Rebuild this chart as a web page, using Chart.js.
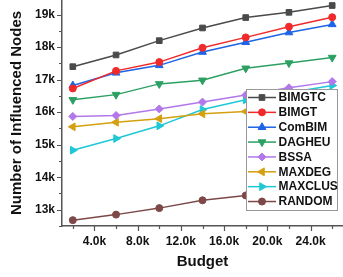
<!DOCTYPE html>
<html>
<head>
<meta charset="utf-8">
<script src="https://cdn.jsdelivr.net/npm/chart.js@4.4.1/dist/chart.umd.min.js"></script>
<style>
  html, body { margin: 0; padding: 0; background: #fff; }
  #wrap { width: 343px; height: 277px; }
</style>
</head>
<body>
<div id="wrap"><canvas id="myChart" width="343" height="277"></canvas></div>
<script>
// budgets on the x axis
const budgets = [2000, 6000, 10000, 14000, 18000, 22000, 26000];

// influenced nodes per method
const bimgtc = [17400, 17760, 18200, 18590, 18910, 19070, 19280];
const bimgt  = [16730, 17270, 17540, 17980, 18300, 18630, 18920];
const combim = [16820, 17210, 17440, 17850, 18150, 18450, 18700];
const dagheu = [16380, 16540, 16870, 16980, 17350, 17510, 17680];
const bssa   = [15870, 15900, 16100, 16310, 16530, 16750, 16940];
const maxdeg = [15550, 15690, 15800, 15950, 16020, 16080, 16150];
const maxclus = [14830, 15190, 15580, 16080, 16380, 16600, 16820];
const random = [12680, 12850, 13050, 13290, 13440, 13560, 13660];

const xTicks = [4000, 8000, 12000, 16000, 20000, 24000];
const xMinor = [2000, 6000, 10000, 14000, 18000, 22000, 26000];
const yTicks = [13000, 14000, 15000, 16000, 17000, 18000, 19000];
const yMinor = [12500, 13500, 14500, 15500, 16500, 17500, 18500];

const FONT = '"Liberation Sans", Arial, sans-serif';

function pairs(vals) {
  return budgets.map((b, i) => ({ x: b, y: vals[i] }));
}

function series(label, vals, color, style, rot, r) {
  return {
    label: label,
    data: pairs(vals),
    borderColor: color,
    backgroundColor: color,
    borderWidth: 1.5,
    pointStyle: style,
    pointRotation: rot,
    pointRadius: r,
    pointBorderWidth: 1,
    pointBorderColor: color,
    pointBackgroundColor: color,
    tension: 0
  };
}

// fixed plot box, no extra padding from the tick labels
function noPad(s) {
  s.paddingTop = 0; s.paddingBottom = 0; s.paddingLeft = 0; s.paddingRight = 0;
}

// ticks drawn by hand so minor ones can be shorter
const axisTicks = {
  id: 'axisTicks',
  afterDraw(chart) {
    const c = chart.ctx;
    const xs = chart.scales.x, ys = chart.scales.y;
    const area = chart.chartArea;
    c.save();
    c.strokeStyle = '#555';
    c.lineWidth = 1.2;
    c.beginPath();
    yTicks.forEach(v => { const p = Math.round(ys.getPixelForValue(v)) + 0.5; c.moveTo(area.left - 5, p); c.lineTo(area.left, p); });
    yMinor.forEach(v => { const p = Math.round(ys.getPixelForValue(v)) + 0.5; if (p >= area.top) { c.moveTo(area.left - 3, p); c.lineTo(area.left, p); } });
    xTicks.forEach(v => { const p = Math.round(xs.getPixelForValue(v)) + 0.5; c.moveTo(p, area.bottom); c.lineTo(p, area.bottom + 5); });
    xMinor.forEach(v => { const p = Math.round(xs.getPixelForValue(v)) + 0.5; c.moveTo(p, area.bottom); c.lineTo(p, area.bottom + 3); });
    c.stroke();
    c.restore();
  }
};

// boxed legend with line + marker samples
const boxLegend = {
  id: 'boxLegend',
  afterDatasetsDraw(chart) {
    const c = chart.ctx;
    const bx = 246, by = 89, bw = 91, bh = 121;
    c.save();
    c.fillStyle = '#fff';
    c.fillRect(bx, by, bw, bh);
    c.strokeStyle = '#999';
    c.lineWidth = 1;
    c.strokeRect(bx + 0.5, by + 0.5, bw, bh);
    chart.data.datasets.forEach((ds, i) => {
      const y = 97.5 + i * 14.86;
      c.strokeStyle = ds.borderColor;
      c.lineWidth = 1.5;
      c.beginPath();
      c.moveTo(248, y);
      c.lineTo(276, y);
      c.stroke();
      c.fillStyle = ds.pointBackgroundColor;
      c.strokeStyle = ds.pointBorderColor;
      c.lineWidth = 1;
      Chart.helpers.drawPoint(c, { pointStyle: ds.pointStyle, rotation: ds.pointRotation, radius: ds.pointRadius, borderWidth: 1 }, 262, y);
      c.fillStyle = '#111';
      c.font = 'bold 12px ' + FONT;
      c.textBaseline = 'middle';
      c.fillText(ds.label, 278.5, y + 0.5);
    });
    c.restore();
  }
};

const ctx = document.getElementById('myChart');

new Chart(ctx, {
  type: 'line',
  data: {
    datasets: [
      series('BIMGTC', bimgtc, '#4a4a4a', 'rect', 0, 4),
      series('BIMGT', bimgt, '#f02a2a', 'circle', 0, 3.5),
      series('ComBIM', combim, '#1e64e6', 'triangle', 0, 4.5),
      series('DAGHEU', dagheu, '#2ca062', 'triangle', 180, 4.5),
      series('BSSA', bssa, '#b277ea', 'rectRot', 0, 4),
      series('MAXDEG', maxdeg, '#d4a010', 'triangle', 270, 4.5),
      series('MAXCLUS', maxclus, '#1ec8d6', 'triangle', 90, 4.5),
      series('RANDOM', random, '#7d4848', 'circle', 0, 3.5)
    ]
  },
  options: {
    responsive: false,
    animation: false,
    devicePixelRatio: 1,
    layout: { padding: 0, autoPadding: false },
    plugins: {
      legend: { display: false },
      tooltip: { enabled: false }
    },
    scales: {
      x: {
        type: 'linear',
        min: 1000,
        max: 27000,
        afterBuildTicks: s => { s.ticks = xTicks.map(v => ({ value: v })); },
        afterFit: s => { s.height = 51; noPad(s); },
        grid: { display: false, drawTicks: false },
        border: { display: true, color: '#555', width: 1.5 },
        ticks: {
          autoSkip: false,
          maxRotation: 0,
          padding: 8,
          color: '#111',
          font: { family: FONT, size: 12, weight: 'bold' },
          callback: v => (v / 1000).toFixed(1) + 'k'
        },
        title: {
          display: true,
          text: 'Budget',
          color: '#111',
          font: { family: FONT, size: 15, weight: 'bold' },
          padding: { top: 0, bottom: 6 }
        }
      },
      y: {
        min: 12500,
        max: 19450,
        afterBuildTicks: s => { s.ticks = yTicks.map(v => ({ value: v })); },
        afterFit: s => { s.width = 62; noPad(s); },
        grid: { display: false, drawTicks: false },
        border: { display: true, color: '#555', width: 1.5 },
        ticks: {
          padding: 7,
          color: '#111',
          font: { family: FONT, size: 12, weight: 'bold' },
          callback: v => (v / 1000) + 'k'
        },
        title: {
          display: true,
          text: 'Number of Influenced Nodes',
          color: '#111',
          font: { family: FONT, size: 15, weight: 'bold' },
          padding: { top: 8, bottom: 0 }
        }
      }
    }
  },
  plugins: [axisTicks, boxLegend]
});
</script>
</body>
</html>
